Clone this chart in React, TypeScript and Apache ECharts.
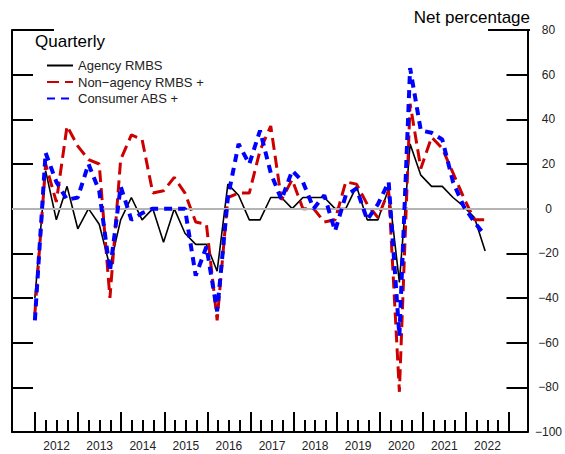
import React, { useEffect, useRef } from "react";
import * as echarts from "echarts";

const periods = [
  "2011Q4",
  "2012Q1", "2012Q2", "2012Q3", "2012Q4",
  "2013Q1", "2013Q2", "2013Q3", "2013Q4",
  "2014Q1", "2014Q2", "2014Q3", "2014Q4",
  "2015Q1", "2015Q2", "2015Q3", "2015Q4",
  "2016Q1", "2016Q2", "2016Q3", "2016Q4",
  "2017Q1", "2017Q2", "2017Q3", "2017Q4",
  "2018Q1", "2018Q2", "2018Q3", "2018Q4",
  "2019Q1", "2019Q2", "2019Q3", "2019Q4",
  "2020Q1", "2020Q2", "2020Q3", "2020Q4",
  "2021Q1", "2021Q2", "2021Q3", "2021Q4",
  "2022Q1", "2022Q2",
];

const agencyRMBS = [
  -40, 17, -5, 10, -9, 0, -7, -26, -5, 5, -5, 0, -15, 0, -11, -16, -16, -28,
  11, 6, -5, -5, 5, 5, 0, 5, 5, 5, 0, 0, 10, -5, -5, 9, -33, 29, 15, 10, 10,
  5, 1, -4, -19,
];

const nonAgencyRMBS = [
  -47, 20, 3, 37, 28, 22, 20, -40, 22, 33, 31, 7, 8, 14, 7, -6, -7, -50, 5, 7,
  7, 26, 37, 4, 13, 0, 0, -6, -5, 12, 11, 2, -4, 8, -82, 47, 18, 32, 27, 16,
  5, -5, -5,
];

const consumerABS = [
  -50, 25, 12, 4, 5, 20, 8, -28, 10, -5, -2, 0, 0, 0, 0, -30, -17, -46, 5, 29,
  20, 35, 16, 4, 17, 12, 0, 6, -10, 6, 9, -5, 2, 12, -57, 63, 35, 34, 31, 12,
  1, -6, -12,
];

const yearTickLabels = [2012, 2013, 2014, 2015, 2016, 2017, 2018, 2019, 2020, 2021, 2022];

const seriesNames = ["Agency RMBS", "Non\u2212agency RMBS +", "Consumer ABS +"];

// quarter-end position in decimal years (2011Q4 -> 2012.0)
const toX = (p: string) => Number(p.slice(0, 4)) + Number(p.slice(5)) / 4;

const W = 565;
const H = 454;
const PLOT_LEFT = 12;
const PLOT_RIGHT = 530;
const PLOT_TOP = 30;
const PLOT_BOTTOM = 432;
const TICK_LEFT = 35; // 2012
const TICK_RIGHT = 509; // 2023
const FIRST_YEAR = 2012;
const LAST_YEAR = 2023;
const pxPerYear = (TICK_RIGHT - TICK_LEFT) / (LAST_YEAR - FIRST_YEAR);
const xMin = FIRST_YEAR - (TICK_LEFT - PLOT_LEFT) / pxPerYear;
const xMax = LAST_YEAR + (PLOT_RIGHT - TICK_RIGHT) / pxPerYear;

const FONT = "'Liberation Sans', Arial, Helvetica, sans-serif";

export default function App() {
  const ref = useRef<HTMLDivElement>(null);

  useEffect(() => {
    if (!ref.current) return;
    const chart = echarts.init(ref.current, undefined, { renderer: "svg" });
    const mk = (vals: number[]) => periods.map((p, i) => [toX(p), vals[i]]);
    const plotH = PLOT_BOTTOM - PLOT_TOP;
    const fmtY = (v: number) => (v < 0 ? "\u2212" + Math.abs(v) : String(v));

    const option: any = {
      animation: false,
      textStyle: { fontFamily: FONT },
      title: [
        {
          text: "Quarterly",
          left: 35,
          top: 33,
          padding: 0,
          textStyle: { fontSize: 17, fontWeight: "normal", color: "#000", fontFamily: FONT },
        },
        {
          text: "Net percentage",
          right: W - PLOT_RIGHT,
          top: 9,
          padding: 0,
          textStyle: { fontSize: 17, fontWeight: "normal", color: "#000", fontFamily: FONT },
        },
      ],
      legend: {
        data: seriesNames,
        orient: "vertical",
        left: 46,
        top: 59,
        padding: 0,
        itemWidth: 26,
        itemHeight: 14,
        itemGap: 3.5,
        itemStyle: { opacity: 0 },
        textStyle: { fontSize: 13, color: "#222", fontFamily: FONT },
      },
      grid: [
        { left: PLOT_LEFT, top: PLOT_TOP, width: PLOT_RIGHT - PLOT_LEFT, height: plotH },
        { left: TICK_LEFT, top: PLOT_TOP, width: TICK_RIGHT - TICK_LEFT, height: plotH },
        {
          left: TICK_LEFT + pxPerYear / 2,
          top: PLOT_TOP,
          width: pxPerYear * (yearTickLabels.length - 1),
          height: plotH,
        },
      ],
      xAxis: [
        {
          gridIndex: 0,
          type: "value",
          min: xMin,
          max: xMax,
          axisLine: { show: true, onZero: false, lineStyle: { color: "#000", width: 2 } },
          axisTick: { show: false },
          axisLabel: { show: false },
          splitLine: { show: false },
        },
        {
          gridIndex: 1,
          type: "value",
          min: FIRST_YEAR,
          max: LAST_YEAR,
          interval: 1,
          axisLine: { show: false, onZero: false },
          axisTick: { show: true, inside: true, length: 20, lineStyle: { color: "#000", width: 2 } },
          minorTick: { show: true, splitNumber: 4, length: 12, lineStyle: { color: "#000", width: 2 } },
          axisLabel: { show: false },
          splitLine: { show: false },
          minorSplitLine: { show: false },
        },
        {
          gridIndex: 2,
          type: "value",
          min: yearTickLabels[0],
          max: yearTickLabels[yearTickLabels.length - 1],
          interval: 1,
          axisLine: { show: false, onZero: false },
          axisTick: { show: false },
          axisLabel: {
            show: true,
            margin: 8,
            fontSize: 12,
            color: "#222",
            fontFamily: FONT,
            showMinLabel: true,
            showMaxLabel: true,
            formatter: (v: number) => String(v),
          },
          splitLine: { show: false },
        },
      ],
      yAxis: [
        {
          gridIndex: 0,
          type: "value",
          position: "left",
          min: -100,
          max: 80,
          interval: 20,
          axisLine: { show: true, onZero: false, lineStyle: { color: "#000", width: 2 } },
          axisTick: { show: true, inside: true, length: 21, lineStyle: { color: "#000", width: 2 } },
          axisLabel: { show: false },
          splitLine: { show: false },
        },
        {
          gridIndex: 0,
          type: "value",
          position: "right",
          min: -100,
          max: 80,
          interval: 20,
          axisLine: { show: true, onZero: false, lineStyle: { color: "#000", width: 2 } },
          axisTick: { show: true, inside: true, length: 21, lineStyle: { color: "#000", width: 2 } },
          axisLabel: {
            show: true,
            margin: 21,
            align: "center",
            fontSize: 12,
            color: "#222",
            fontFamily: FONT,
            formatter: fmtY,
          },
          splitLine: { show: false },
        },
        { gridIndex: 1, type: "value", min: -100, max: 80, show: false },
        { gridIndex: 2, type: "value", min: -100, max: 80, show: false },
      ],
      graphic: [
        {
          type: "line",
          shape: { x1: PLOT_LEFT, y1: PLOT_TOP, x2: PLOT_LEFT + 42, y2: PLOT_TOP },
          style: { stroke: "#000", lineWidth: 2 },
        },
        {
          type: "line",
          shape: { x1: PLOT_RIGHT - 42, y1: PLOT_TOP, x2: PLOT_RIGHT, y2: PLOT_TOP },
          style: { stroke: "#000", lineWidth: 2 },
        },
      ],
      series: [
        {
          type: "line",
          name: "zero",
          xAxisIndex: 0,
          yAxisIndex: 0,
          data: [],
          z: 1,
          silent: true,
          markLine: {
            silent: true,
            symbol: ["none", "none"],
            label: { show: false },
            lineStyle: { color: "#b4b4b4", width: 2, type: "solid" },
            data: [{ yAxis: 0 }],
          },
        },
        {
          type: "line",
          name: seriesNames[0],
          xAxisIndex: 0,
          yAxisIndex: 0,
          data: mk(agencyRMBS),
          symbol: "none",
          z: 3,
          lineStyle: { color: "#000", width: 1.6 },
          itemStyle: { color: "#000", opacity: 0 },
        },
        {
          type: "line",
          name: seriesNames[1],
          xAxisIndex: 0,
          yAxisIndex: 0,
          data: mk(nonAgencyRMBS),
          symbol: "none",
          z: 4,
          lineStyle: { color: "#cc0000", width: 3, type: [12, 6] },
          itemStyle: { color: "#cc0000", opacity: 0 },
        },
        {
          type: "line",
          name: seriesNames[2],
          xAxisIndex: 0,
          yAxisIndex: 0,
          data: mk(consumerABS),
          symbol: "none",
          z: 5,
          lineStyle: { color: "#0000ff", width: 4, type: [8, 6] },
          itemStyle: { color: "#0000ff", opacity: 0 },
        },
      ],
    };

    chart.setOption(option);
    return () => chart.dispose();
  }, []);

  return (
    <div
      ref={ref}
      style={{ position: "fixed", left: 0, top: 0, width: W, height: H, background: "#fff" }}
    />
  );
}
